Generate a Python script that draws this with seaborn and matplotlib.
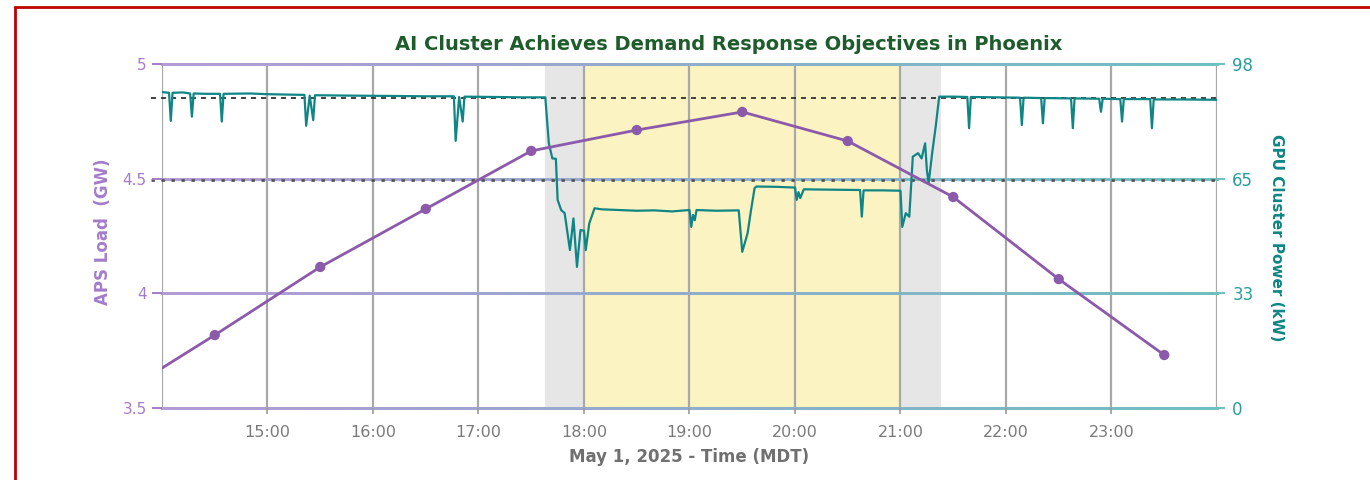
import numpy as np
import pandas as pd
import matplotlib
matplotlib.use("Agg")
import matplotlib.pyplot as plt
from matplotlib.collections import LineCollection
from matplotlib.colors import to_rgb
from matplotlib.patches import Rectangle
import seaborn as sns

sns.set_style("white")
plt.rcParams["font.family"] = ["DejaVu Sans"]

# ---------------- data ----------------
aps_times = ["14:00", "14:30", "15:30", "16:30", "17:30", "18:30",
             "19:30", "20:30", "21:30", "22:30", "23:30"]
aps_gw = [3.674, 3.818, 4.115, 4.368, 4.621, 4.712,
          4.791, 4.664, 4.420, 4.062, 3.731]
aps_marked = [False, True, True, True, True, True, True, True, True, True, True]

gpu_times = ["14:00", "14:04", "14:05", "14:06", "14:12", "14:16", "14:17", "14:18",
             "14:25", "14:33", "14:34", "14:35", "14:50", "15:00", "15:10", "15:21",
             "15:22", "15:24", "15:26", "15:27", "15:45", "16:10", "16:30", "16:46",
             "16:47", "16:49", "16:51", "16:52", "17:10", "17:25", "17:38", "17:40",
             "17:42", "17:44", "17:45", "17:47", "17:49", "17:52", "17:54", "17:56",
             "17:58", "18:00", "18:01", "18:03", "18:06", "18:10", "18:20", "18:30",
             "18:40", "18:50", "19:00", "19:01", "19:02", "19:03", "19:04", "19:15",
             "19:28", "19:30", "19:33", "19:35", "19:37", "19:38", "19:50", "20:00",
             "20:01", "20:02", "20:03", "20:05", "20:20", "20:37", "20:38", "20:39",
             "20:50", "21:00", "21:01", "21:03", "21:05", "21:07", "21:10", "21:12",
             "21:14", "21:15", "21:16", "21:18", "21:20", "21:22", "21:30", "21:38",
             "21:39", "21:40", "21:55", "22:08", "22:09", "22:10", "22:20", "22:21",
             "22:22", "22:37", "22:38", "22:39", "22:53", "22:54", "22:55", "23:05",
             "23:06", "23:07", "23:22", "23:23", "23:24", "23:40", "24:00"]
gpu_kw = [90.0, 89.8, 81.8, 89.8, 89.9, 89.6, 83.0, 89.6,
          89.5, 89.5, 81.6, 89.5, 89.6, 89.4, 89.3, 89.2,
          80.4, 89.0, 82.0, 89.1, 89.0, 88.9, 88.8, 88.8,
          76.1, 88.6, 81.6, 88.7, 88.6, 88.5, 88.5, 75.4,
          71.1, 71.0, 59.3, 56.4, 55.5, 45.0, 54.0, 40.2,
          50.7, 50.5, 45.0, 52.6, 56.9, 56.6, 56.4, 56.2,
          56.3, 56.0, 56.4, 51.6, 55.0, 53.5, 56.4, 56.2,
          56.3, 44.5, 49.7, 56.4, 62.6, 63.1, 63.0, 62.8,
          59.3, 61.5, 59.8, 62.3, 62.2, 62.1, 54.5, 62.0,
          62.0, 61.9, 51.6, 55.5, 54.5, 71.6, 72.6, 71.1,
          75.4, 67.8, 64.0, 72.6, 80.1, 88.7, 88.7, 88.6,
          79.7, 88.6, 88.5, 88.4, 80.6, 88.4, 88.3, 81.1,
          88.3, 88.2, 79.7, 88.2, 88.1, 84.4, 88.1, 88.0,
          81.6, 88.0, 88.0, 79.7, 87.9, 87.9, 87.8]

baseline_kw = 88.3
target_kw = 65.0
x_ticks = [15, 16, 17, 18, 19, 20, 21, 22, 23]
x_labels = ["15:00", "16:00", "17:00", "18:00", "19:00", "20:00", "21:00", "22:00", "23:00"]
grid_hours = [14, 15, 16, 17, 18, 19, 20, 21, 22, 23, 24]
left_ticks = [3.5, 4.0, 4.5, 5.0]
left_labels = ["3.5", "4", "4.5", "5"]
right_ticks = [0, 98 / 3, 196 / 3, 98]
right_labels = ["0", "33", "65", "98"]
ramp_spans = [("17:38", "18:00"), ("21:00", "21:23")]
event_span = ("18:00", "21:00")


def hrs(s):
    h, m = s.split(":")
    return int(h) + int(m) / 60.0


PURPLE = "#8c5aab"
PURPLE_LIGHT = "#a47ccb"
TEAL = "#0f8585"
TEAL_LIGHT = "#2a9d9d"
GRID_P = "#b39bd6"
GRID_T = "#6fbfbf"

aps_df = pd.DataFrame({"t": [hrs(s) for s in aps_times], "gw": aps_gw, "m": aps_marked})
gpu_df = pd.DataFrame({"t": [hrs(s) for s in gpu_times], "kw": gpu_kw})

fig = plt.figure(figsize=(13.7, 4.8), dpi=100)
ax = fig.add_axes([162 / 1370, 1 - 408 / 480, (1217 - 162) / 1370, (408 - 64) / 480])
ax2 = ax.twinx()
ax.set_zorder(2)
ax2.set_zorder(1)
ax.patch.set_visible(False)

ax.set_xlim(14, 24)
ax.set_ylim(3.5, 5.0)
ax2.set_ylim(0, 98)

# shading
for a, b in ramp_spans:
    ax2.axvspan(hrs(a), hrs(b), color="#e6e6e6", lw=0, zorder=0)
ax2.axvspan(hrs(event_span[0]), hrs(event_span[1]), color="#fcf3c3", lw=0, zorder=0)

# vertical grid
for h in grid_hours:
    ax2.axvline(h, color="#a8a8a8", lw=1.6, zorder=1)

# gradient horizontal grid
c1, c2 = np.array(to_rgb(GRID_P)), np.array(to_rgb(GRID_T))
n = 40
xs = np.linspace(0, 1, n + 1)
for yv in right_ticks:
    segs = [[(xs[i], yv), (xs[i + 1], yv)] for i in range(n)]
    cols = [c1 + (c2 - c1) * (i / (n - 1)) for i in range(n)]
    lc = LineCollection(segs, colors=cols, linewidths=1.8, capstyle="projecting",
                        antialiaseds=False,
                        transform=ax2.get_yaxis_transform(), zorder=1.5, clip_on=False)
    ax2.add_collection(lc)

# reference lines
ax2.axhline(baseline_kw, xmin=-0.01, xmax=1.0, color="#222222", lw=1.2,
            ls=(0, (3, 3)), zorder=2, clip_on=False)
ax2.axhline(target_kw, xmin=-0.01, xmax=1.0, color="#555555", lw=2.0,
            ls=(0, (1.2, 2.4)), zorder=2, clip_on=False)

# GPU power line
sns.lineplot(data=gpu_df, x="t", y="kw", ax=ax2, color=TEAL, lw=1.6,
             estimator=None, sort=False, zorder=3)

# APS load line + markers
sns.lineplot(data=aps_df, x="t", y="gw", ax=ax, color=PURPLE, lw=2.0,
             estimator=None, sort=False, zorder=4)
sns.scatterplot(data=aps_df[aps_df["m"]], x="t", y="gw", ax=ax, color=PURPLE,
                s=55, edgecolor="none", zorder=5)

for a_ in (ax, ax2):
    for sp in a_.spines.values():
        sp.set_visible(False)

ax.set_xticks(x_ticks)
ax.set_xticklabels(x_labels, color="#7a7a7a", fontsize=11.5)
ax.set_yticks(left_ticks)
ax.set_yticklabels(left_labels, color=PURPLE_LIGHT, fontsize=11)
ax.tick_params(axis="x", length=4, width=1.2, color="#9a9a9a", pad=8, bottom=True)
ax.tick_params(axis="y", length=7, width=1.4, color=PURPLE_LIGHT, pad=4, left=True)

ax2.set_yticks(right_ticks)
ax2.set_yticklabels(right_labels, color=TEAL_LIGHT, fontsize=12)
ax2.tick_params(axis="y", length=6, width=1.4, color=GRID_T, pad=5, right=True)

ax.set_xlabel("May 1, 2025 - Time (MDT)", color="#707070", fontsize=12,
              fontweight="bold", labelpad=6)
ax.set_ylabel("")
ax2.set_ylabel("")
fig.text(103 / 1370, 1 - 232 / 480, "APS Load  (GW)", color=PURPLE_LIGHT, fontsize=12,
         fontweight="bold", rotation=90, ha="center", va="center")
fig.text(1277 / 1370, 1 - 238 / 480, "GPU Cluster Power (kW)", color=TEAL, fontsize=11,
         fontweight="bold", rotation=270, ha="center", va="center")

fig.text(729 / 1370, 1 - 44 / 480, "AI Cluster Achieves Demand Response Objectives in Phoenix",
         ha="center", va="center", fontsize=14, fontweight="bold", color="#1f5c2c")

# red frame
fig.patches.append(Rectangle((15 / 1370, -0.05), 1.1, 1 - 7 / 480 + 0.05,
                             transform=fig.transFigure, fill=False,
                             edgecolor="#c00000", lw=2.0, clip_on=False))

fig.savefig("out.png", dpi=100)
